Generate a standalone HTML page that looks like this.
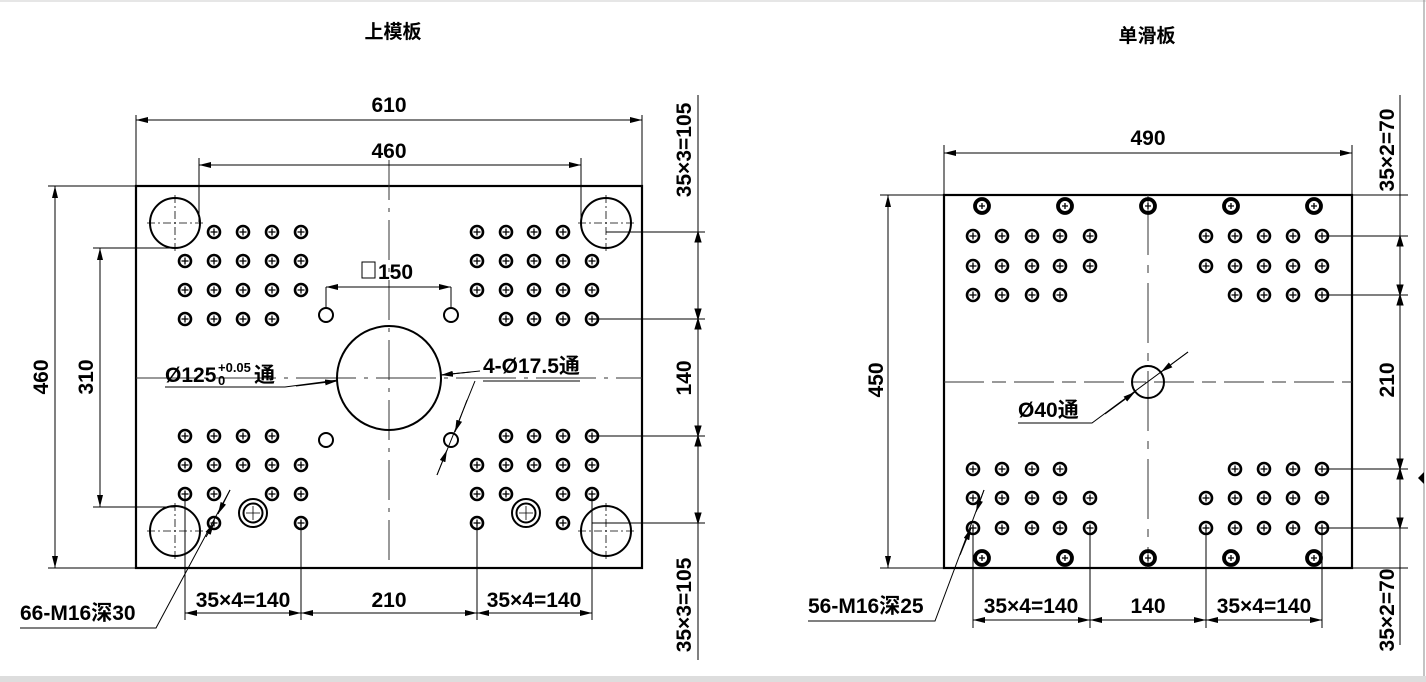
<!DOCTYPE html>
<html><head><meta charset="utf-8"><style>
html,body{margin:0;padding:0;background:#fff;}
svg{display:block}
text{font-family:"Liberation Sans","Noto Sans CJK SC",sans-serif;font-weight:bold;fill:#000}
</style></head><body>
<svg width="1426" height="682" viewBox="0 0 1426 682" xmlns="http://www.w3.org/2000/svg">
<defs>
<g id="h"><circle r="6" fill="none" stroke="#000" stroke-width="2.6"/><path d="M-3.5 0H3.5M0 -3.5V3.5" stroke="#000" stroke-width="1.3"/></g>
<g id="b"><circle r="7" fill="none" stroke="#000" stroke-width="3.8"/><path d="M-3 0H3M0 -3V3" stroke="#000" stroke-width="1.3"/></g>
<marker id="a" viewBox="0 0 12 6" refX="12" refY="3" markerWidth="12" markerHeight="6" orient="auto-start-reverse" markerUnits="userSpaceOnUse"><path d="M0 0L12 3L0 6z" fill="#000"/></marker>
</defs>
<rect x="0" y="0" width="1426" height="682" fill="#fff"/>
<line x1="0" y1="1" x2="1426" y2="1" stroke="#ccc"/>
<rect x="0" y="676" width="1426" height="6" fill="#ddd"/>
<line x1="1424" y1="0" x2="1424" y2="676" stroke="#888"/>
<path d="M1418 478l6 6 0-12z" fill="#000"/>

<text x="393" y="38" font-size="19" text-anchor="middle">上模板</text>
<text x="1147" y="42" font-size="19" text-anchor="middle">单滑板</text>

<g stroke="#000" fill="none" stroke-width="1">
<rect x="136" y="186" width="506" height="382" stroke-width="2.2"/>
<line x1="389" y1="160" x2="389" y2="568" stroke="#333" stroke-dasharray="40,8,4,8"/>
<line x1="136" y1="378" x2="642" y2="378" stroke="#333" stroke-dasharray="60,8,4,8"/>
<circle cx="175" cy="223" r="25" stroke-width="2"/><circle cx="606" cy="223" r="25" stroke-width="2"/>
<circle cx="175" cy="531" r="25" stroke-width="2"/><circle cx="606" cy="531" r="25" stroke-width="2"/>
<g stroke-dasharray="8,3,2,3" stroke-width="0.8">
<path d="M147 223H203M175 195V251M578 223H634M606 195V251M147 531H203M175 503V559M578 531H634M606 503V559"/>
</g>
<circle cx="389" cy="378" r="52" stroke-width="2"/>
<circle cx="253" cy="513" r="14" stroke-width="2"/><circle cx="253" cy="513" r="9.5" stroke-width="2"/>
<circle cx="526" cy="513" r="14" stroke-width="2"/><circle cx="526" cy="513" r="9.5" stroke-width="2"/>
<path d="M246 513H260M253 506V520M519 513H533M526 506V520" stroke-width="0.8"/>
<circle cx="326" cy="315" r="7" stroke-width="2"/><circle cx="451" cy="315" r="7" stroke-width="2"/>
<circle cx="326" cy="440" r="7" stroke-width="2"/><circle cx="451" cy="440" r="7" stroke-width="2"/>

<path d="M136 115V186M642 115V186"/>
<line x1="136" y1="120" x2="642" y2="120" marker-start="url(#a)" marker-end="url(#a)"/>
<path d="M199 158V222M581 158V222"/>
<line x1="199" y1="165" x2="581" y2="165" marker-start="url(#a)" marker-end="url(#a)"/>
<path d="M48 186H136M48 568H136"/>
<line x1="55" y1="186" x2="55" y2="568" marker-start="url(#a)" marker-end="url(#a)"/>
<path d="M93 248H175M93 507H175"/>
<line x1="100" y1="248" x2="100" y2="507" marker-start="url(#a)" marker-end="url(#a)"/>
<line x1="698" y1="95" x2="698" y2="660"/>
<path d="M606 232H705M592 319H705M592 436H705M592 523H705"/>
<path d="M698 232l-3 10h6zM698 319l-3 -10h6zM698 319l-3 10h6zM698 436l-3 -10h6zM698 436l-3 10h6zM698 523l-3 -10h6z" fill="#000"/>
<path d="M185 494V620M301 523V620M477 523V620M592 494V620"/>
<line x1="185" y1="613" x2="301" y2="613" marker-start="url(#a)" marker-end="url(#a)"/>
<line x1="301" y1="613" x2="477" y2="613" marker-start="url(#a)" marker-end="url(#a)"/>
<line x1="477" y1="613" x2="592" y2="613" marker-start="url(#a)" marker-end="url(#a)"/>
<path d="M326 287V308M451 287V308"/>
<line x1="326" y1="287" x2="451" y2="287" marker-start="url(#a)" marker-end="url(#a)"/>
<path d="M20 628H156L230 490"/>
<line x1="206" y1="537" x2="214" y2="523" marker-end="url(#a)"/>
<path d="M165 387H285L338 380"/>
<line x1="296" y1="386" x2="337" y2="381" marker-end="url(#a)"/>
<path d="M441 375L471 372"/>
<line x1="480" y1="371" x2="441" y2="375" marker-end="url(#a)"/>
<path d="M483 381H580M475 381L437 475"/>
<line x1="467" y1="400" x2="455" y2="432" marker-end="url(#a)"/>
<line x1="437" y1="475" x2="447" y2="450" marker-end="url(#a)"/>
<line x1="230" y1="490" x2="218" y2="514" marker-end="url(#a)"/>

<rect x="944" y="195" width="408" height="373" stroke-width="2.2"/>
<line x1="1148" y1="195" x2="1148" y2="568" stroke="#333" stroke-dasharray="60,10,8,10"/>
<line x1="944" y1="382" x2="1352" y2="382" stroke="#333" stroke-dasharray="40,8,14,8"/>
<circle cx="1148" cy="382" r="16" stroke-width="2"/>
<path d="M944 145V195M1352 145V195"/>
<line x1="944" y1="153" x2="1352" y2="153" marker-start="url(#a)" marker-end="url(#a)"/>
<path d="M880 195H944M880 568H944"/>
<line x1="888" y1="195" x2="888" y2="568" marker-start="url(#a)" marker-end="url(#a)"/>
<line x1="1400" y1="95" x2="1400" y2="645"/>
<path d="M1352 195H1408M1322 236H1408M1322 295H1408M1322 469H1408M1322 528H1408M1352 568H1408"/>
<path d="M1400 236l-3 10h6zM1400 295l-3 -10h6zM1400 295l-3 10h6zM1400 469l-3 -10h6zM1400 469l-3 10h6zM1400 528l-3 -10h6z" fill="#000"/>
<path d="M973 528V628M1090 528V628M1206 528V628M1322 528V628"/>
<line x1="973" y1="620" x2="1090" y2="620" marker-start="url(#a)" marker-end="url(#a)"/>
<line x1="1090" y1="620" x2="1206" y2="620" marker-start="url(#a)" marker-end="url(#a)"/>
<line x1="1206" y1="620" x2="1322" y2="620" marker-start="url(#a)" marker-end="url(#a)"/>
<path d="M808 621H935L984 490"/>
<line x1="960" y1="555" x2="971" y2="528" marker-end="url(#a)"/>
<line x1="984" y1="490" x2="976" y2="512" marker-end="url(#a)"/>
<path d="M1018 423H1092L1188 352"/>
<line x1="1105" y1="414" x2="1135" y2="392" marker-end="url(#a)"/>
<line x1="1188" y1="352" x2="1161" y2="372" marker-end="url(#a)"/>
</g>

<g>
<use href="#h" x="214" y="232"/><use href="#h" x="243" y="232"/><use href="#h" x="272" y="232"/><use href="#h" x="301" y="232"/>
<use href="#h" x="185" y="261"/><use href="#h" x="214" y="261"/><use href="#h" x="243" y="261"/><use href="#h" x="272" y="261"/><use href="#h" x="301" y="261"/>
<use href="#h" x="185" y="290"/><use href="#h" x="214" y="290"/><use href="#h" x="243" y="290"/><use href="#h" x="272" y="290"/><use href="#h" x="301" y="290"/>
<use href="#h" x="185" y="319"/><use href="#h" x="214" y="319"/><use href="#h" x="243" y="319"/><use href="#h" x="272" y="319"/>
<use href="#h" x="477" y="232"/><use href="#h" x="506" y="232"/><use href="#h" x="534" y="232"/><use href="#h" x="563" y="232"/>
<use href="#h" x="477" y="261"/><use href="#h" x="506" y="261"/><use href="#h" x="534" y="261"/><use href="#h" x="563" y="261"/><use href="#h" x="592" y="261"/>
<use href="#h" x="477" y="290"/><use href="#h" x="506" y="290"/><use href="#h" x="534" y="290"/><use href="#h" x="563" y="290"/><use href="#h" x="592" y="290"/>
<use href="#h" x="506" y="319"/><use href="#h" x="534" y="319"/><use href="#h" x="563" y="319"/><use href="#h" x="592" y="319"/>
<use href="#h" x="185" y="436"/><use href="#h" x="214" y="436"/><use href="#h" x="243" y="436"/><use href="#h" x="272" y="436"/>
<use href="#h" x="185" y="465"/><use href="#h" x="214" y="465"/><use href="#h" x="243" y="465"/><use href="#h" x="272" y="465"/><use href="#h" x="301" y="465"/>
<use href="#h" x="185" y="494"/><use href="#h" x="214" y="494"/><use href="#h" x="272" y="494"/><use href="#h" x="301" y="494"/>
<use href="#h" x="214" y="523"/><use href="#h" x="301" y="523"/>
<use href="#h" x="506" y="436"/><use href="#h" x="534" y="436"/><use href="#h" x="563" y="436"/><use href="#h" x="592" y="436"/>
<use href="#h" x="477" y="465"/><use href="#h" x="506" y="465"/><use href="#h" x="534" y="465"/><use href="#h" x="563" y="465"/><use href="#h" x="592" y="465"/>
<use href="#h" x="477" y="494"/><use href="#h" x="506" y="494"/><use href="#h" x="563" y="494"/><use href="#h" x="592" y="494"/>
<use href="#h" x="477" y="523"/><use href="#h" x="563" y="523"/>
</g>
<g>
<use href="#b" x="982" y="206"/><use href="#b" x="1065" y="206"/><use href="#b" x="1148" y="206"/><use href="#b" x="1231" y="206"/><use href="#b" x="1314" y="206"/>
<use href="#b" x="982" y="558"/><use href="#b" x="1065" y="558"/><use href="#b" x="1148" y="558"/><use href="#b" x="1231" y="558"/><use href="#b" x="1314" y="558"/>
<use href="#h" x="973" y="236"/><use href="#h" x="1002" y="236"/><use href="#h" x="1032" y="236"/><use href="#h" x="1060" y="236"/><use href="#h" x="1090" y="236"/>
<use href="#h" x="973" y="266"/><use href="#h" x="1002" y="266"/><use href="#h" x="1032" y="266"/><use href="#h" x="1060" y="266"/><use href="#h" x="1090" y="266"/>
<use href="#h" x="973" y="295"/><use href="#h" x="1002" y="295"/><use href="#h" x="1032" y="295"/><use href="#h" x="1060" y="295"/>
<use href="#h" x="1206" y="236"/><use href="#h" x="1235" y="236"/><use href="#h" x="1264" y="236"/><use href="#h" x="1293" y="236"/><use href="#h" x="1322" y="236"/>
<use href="#h" x="1206" y="266"/><use href="#h" x="1235" y="266"/><use href="#h" x="1264" y="266"/><use href="#h" x="1293" y="266"/><use href="#h" x="1322" y="266"/>
<use href="#h" x="1235" y="295"/><use href="#h" x="1264" y="295"/><use href="#h" x="1293" y="295"/><use href="#h" x="1322" y="295"/>
<use href="#h" x="973" y="469"/><use href="#h" x="1002" y="469"/><use href="#h" x="1032" y="469"/><use href="#h" x="1060" y="469"/>
<use href="#h" x="973" y="498"/><use href="#h" x="1002" y="498"/><use href="#h" x="1032" y="498"/><use href="#h" x="1060" y="498"/><use href="#h" x="1090" y="498"/>
<use href="#h" x="973" y="528"/><use href="#h" x="1002" y="528"/><use href="#h" x="1032" y="528"/><use href="#h" x="1060" y="528"/><use href="#h" x="1090" y="528"/>
<use href="#h" x="1235" y="469"/><use href="#h" x="1264" y="469"/><use href="#h" x="1293" y="469"/><use href="#h" x="1322" y="469"/>
<use href="#h" x="1206" y="498"/><use href="#h" x="1235" y="498"/><use href="#h" x="1264" y="498"/><use href="#h" x="1293" y="498"/><use href="#h" x="1322" y="498"/>
<use href="#h" x="1206" y="528"/><use href="#h" x="1235" y="528"/><use href="#h" x="1264" y="528"/><use href="#h" x="1293" y="528"/><use href="#h" x="1322" y="528"/>
</g>

<g font-size="21">
<text x="389" y="112" text-anchor="middle">610</text>
<text x="389" y="158" text-anchor="middle">460</text>
<text transform="translate(48,377) rotate(-90)" text-anchor="middle">460</text>
<text transform="translate(93,377) rotate(-90)" text-anchor="middle">310</text>
<text transform="translate(691,150) rotate(-90)" text-anchor="middle">35×3=105</text>
<text transform="translate(691,378) rotate(-90)" text-anchor="middle">140</text>
<text transform="translate(691,605) rotate(-90)" text-anchor="middle">35×3=105</text>
<text x="243" y="607" text-anchor="middle">35×4=140</text>
<text x="389" y="607" text-anchor="middle">210</text>
<text x="534" y="607" text-anchor="middle">35×4=140</text>
<text x="20" y="620">66-M16深30</text>
<text x="165" y="382">Ø125</text>
<text x="218" y="372" font-size="13">+0.05</text>
<text x="218" y="385" font-size="13">0</text>
<text x="254" y="382">通</text>
<text x="483" y="373">4-Ø17.5通</text>
<rect x="362" y="262" width="13" height="16" fill="none" stroke="#000" stroke-width="1"/>
<text x="378" y="279">150</text>
<text x="1148" y="145" text-anchor="middle">490</text>
<text transform="translate(883,380) rotate(-90)" text-anchor="middle">450</text>
<text transform="translate(1394,150) rotate(-90)" text-anchor="middle">35×2=70</text>
<text transform="translate(1394,380) rotate(-90)" text-anchor="middle">210</text>
<text transform="translate(1394,610) rotate(-90)" text-anchor="middle">35×2=70</text>
<text x="1031" y="613" text-anchor="middle">35×4=140</text>
<text x="1148" y="613" text-anchor="middle">140</text>
<text x="1264" y="613" text-anchor="middle">35×4=140</text>
<text x="808" y="613">56-M16深25</text>
<text x="1018" y="417">Ø40通</text>
</g>
</svg>
</body></html>
